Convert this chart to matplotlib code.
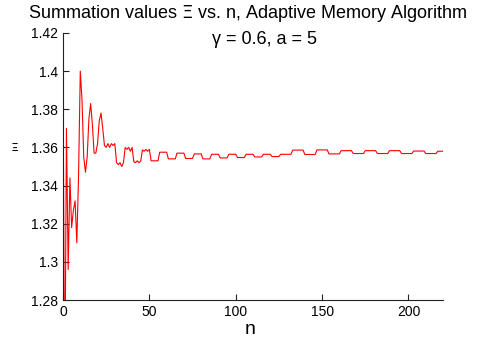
import numpy as np
import matplotlib
matplotlib.use('Agg')
from matplotlib import pyplot as plt

# Early oscillating part, one value per n (n = 0 .. 50)
early_values = [1.400, 1.220, 1.370, 1.296, 1.344, 1.318, 1.327, 1.332, 1.310, 1.345,
                1.400, 1.385, 1.355, 1.347, 1.355, 1.375, 1.383, 1.372, 1.357, 1.357,
                1.362, 1.374, 1.378, 1.370, 1.361, 1.360, 1.362, 1.360, 1.362, 1.361,
                1.362, 1.352, 1.351, 1.352, 1.350, 1.352, 1.360, 1.359, 1.360, 1.358,
                1.360, 1.3525, 1.352, 1.353, 1.352, 1.353, 1.3587, 1.358, 1.359, 1.358,
                1.359]

# Later part: flat plateaus (first n, last n, level)
plateau_first = [51, 56, 61, 66, 71, 76, 81, 86, 91, 96, 101, 106, 111, 116, 121,
                 126, 133, 140, 147, 154, 161, 168, 175, 182, 189, 196, 203, 210, 217]
plateau_last = [55, 60, 65, 70, 75, 80, 85, 90, 95, 100, 105, 110, 115, 120, 125,
                132, 139, 146, 153, 160, 167, 174, 181, 188, 195, 202, 209, 216, 220]
plateau_level = [1.3530, 1.3575, 1.3540, 1.3570, 1.3542, 1.3566, 1.3540, 1.3564,
                 1.3545, 1.3564, 1.3547, 1.3564, 1.3550, 1.3564, 1.3552, 1.3564,
                 1.3586, 1.3563, 1.3587, 1.3566, 1.3583, 1.3568, 1.3583, 1.3568,
                 1.3583, 1.3568, 1.3581, 1.3568, 1.3580]

y_ticks = [1.28, 1.30, 1.32, 1.34, 1.36, 1.38, 1.40, 1.42]
y_tick_labels = ['1.28', '1.3', '1.32', '1.34', '1.36', '1.38', '1.4', '1.42']
x_ticks = [0, 50, 100, 150, 200]

# build the sample sequence
xi = list(early_values)
for first, last, level in zip(plateau_first, plateau_last, plateau_level):
    xi.extend([level] * (last - first + 1))
n = np.arange(len(xi))

plt.rcParams['font.family'] = ['Liberation Sans', 'DejaVu Sans']

fig = plt.figure(figsize=(4.78, 3.43), dpi=100)
ax = fig.add_axes([63 / 478, 1 - 300 / 343, 380 / 478, 267 / 343])

ax.plot(n, xi, color='red', linewidth=0.8)

ax.set_xlim(0, 220)
ax.set_ylim(1.28, 1.42)
ax.set_yticks(y_ticks)
ax.set_yticklabels(y_tick_labels)
ax.set_xticks(x_ticks)

for side in ['top', 'right']:
    ax.spines[side].set_visible(False)
for side in ['left', 'bottom']:
    ax.spines[side].set_linewidth(0.8)
    ax.spines[side].set_color('#222222')
ax.tick_params(direction='in', length=4, width=0.8, labelsize=10, colors='#222222')
ax.tick_params(labelcolor='black')

fig.text(248 / 478, 1 - 13 / 343, 'Summation values $\\Xi$ vs. n, Adaptive Memory Algorithm',
         ha='center', va='center', fontsize=13)
fig.text(264 / 478, 1 - 39 / 343, '\u03b3 = 0.6, a = 5', ha='center', va='center', fontsize=13)
fig.text(250 / 478, 1 - 329 / 343, 'n', ha='center', va='center', fontsize=14)
fig.text(15 / 478, 1 - 148 / 343, '\u039e', ha='center', va='center', fontsize=7,
         fontweight='bold')

fig.savefig('out.png', dpi=100)
